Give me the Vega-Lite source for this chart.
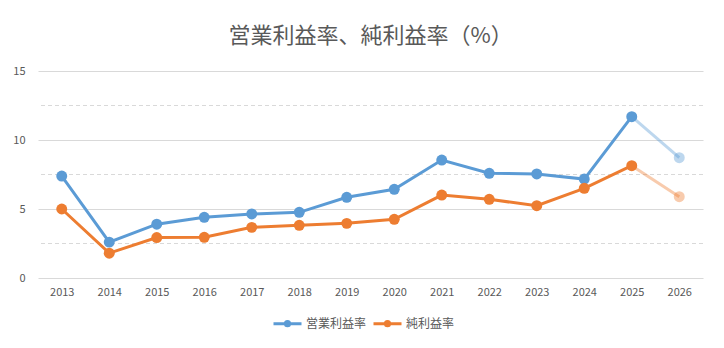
{
  "$schema": "https://vega.github.io/schema/vega-lite/v6.json",
  "width": 665,
  "height": 207,
  "autosize": {"type": "none"},
  "padding": {"left": 38, "top": 71, "right": 21, "bottom": 70},
  "background": "white",
  "title": {
    "text": "営業利益率、純利益率（%）",
    "font": "Noto Sans CJK JP",
    "fontSize": 22,
    "fontWeight": "normal",
    "color": "#595959",
    "anchor": "middle",
    "offset": 17
  },
  "config": {
    "view": {"stroke": null},
    "font": "Noto Sans CJK JP",
    "axis": {"labelColor": "#595959", "labelFontSize": 11, "labelFont": "Noto Sans CJK JP"},
    "legend": {"labelColor": "#595959", "labelFontSize": 12, "labelFont": "Noto Sans CJK JP"}
  },
  "datasets": {
    "main": [
      {"year": "2013", "series": "営業利益率", "seg": "actual", "value": 7.39},
      {"year": "2014", "series": "営業利益率", "seg": "actual", "value": 2.6},
      {"year": "2015", "series": "営業利益率", "seg": "actual", "value": 3.9},
      {"year": "2016", "series": "営業利益率", "seg": "actual", "value": 4.4},
      {"year": "2017", "series": "営業利益率", "seg": "actual", "value": 4.64},
      {"year": "2018", "series": "営業利益率", "seg": "actual", "value": 4.76},
      {"year": "2019", "series": "営業利益率", "seg": "actual", "value": 5.85},
      {"year": "2020", "series": "営業利益率", "seg": "actual", "value": 6.43},
      {"year": "2021", "series": "営業利益率", "seg": "actual", "value": 8.55},
      {"year": "2022", "series": "営業利益率", "seg": "actual", "value": 7.59},
      {"year": "2023", "series": "営業利益率", "seg": "actual", "value": 7.54},
      {"year": "2024", "series": "営業利益率", "seg": "actual", "value": 7.17},
      {"year": "2025", "series": "営業利益率", "seg": "actual", "value": 11.69},
      {"year": "2025", "series": "営業利益率", "seg": "forecast", "value": 11.69},
      {"year": "2026", "series": "営業利益率", "seg": "forecast", "value": 8.72},
      {"year": "2013", "series": "純利益率", "seg": "actual", "value": 5.0},
      {"year": "2014", "series": "純利益率", "seg": "actual", "value": 1.8},
      {"year": "2015", "series": "純利益率", "seg": "actual", "value": 2.93},
      {"year": "2016", "series": "純利益率", "seg": "actual", "value": 2.95},
      {"year": "2017", "series": "純利益率", "seg": "actual", "value": 3.67},
      {"year": "2018", "series": "純利益率", "seg": "actual", "value": 3.82},
      {"year": "2019", "series": "純利益率", "seg": "actual", "value": 3.96},
      {"year": "2020", "series": "純利益率", "seg": "actual", "value": 4.25},
      {"year": "2021", "series": "純利益率", "seg": "actual", "value": 6.01},
      {"year": "2022", "series": "純利益率", "seg": "actual", "value": 5.7},
      {"year": "2023", "series": "純利益率", "seg": "actual", "value": 5.24},
      {"year": "2024", "series": "純利益率", "seg": "actual", "value": 6.5},
      {"year": "2025", "series": "純利益率", "seg": "actual", "value": 8.14},
      {"year": "2025", "series": "純利益率", "seg": "forecast", "value": 8.14},
      {"year": "2026", "series": "純利益率", "seg": "forecast", "value": 5.89}
    ],
    "minor": [{"v": 2.5}, {"v": 7.5}, {"v": 12.5}]
  },
  "resolve": {"scale": {"y": "shared"}},
  "layer": [
    {
      "data": {"name": "minor"},
      "mark": {"type": "rule", "color": "#D9D9D9", "strokeWidth": 1, "strokeDash": [4, 3]},
      "encoding": {
        "y": {
          "field": "v", "type": "quantitative",
          "scale": {"domain": [0, 15], "nice": false, "zero": true},
          "axis": {"title": null, "values": [0, 5, 10, 15], "domain": false, "ticks": false, "gridColor": "#D9D9D9", "labelPadding": 13}
        }
      }
    },
    {
      "data": {"name": "main"},
      "mark": {"type": "line", "strokeWidth": 3},
      "encoding": {
        "x": {
          "field": "year", "type": "ordinal",
          "scale": {"type": "point", "padding": 0.5},
          "axis": {"title": null, "labelAngle": 0, "domain": false, "ticks": false, "labelPadding": 8}
        },
        "y": {"field": "value", "type": "quantitative"},
        "color": {
          "field": "series", "type": "nominal",
          "scale": {"domain": ["営業利益率", "純利益率"], "range": ["#5B9BD5", "#ED7D31"]},
          "legend": {
            "title": null, "orient": "none", "direction": "horizontal",
            "legendX": 234, "legendY": 237,
            "symbolType": "M-1,0L1,0M-0.15,0A0.15,0.15,0,1,0,0.15,0A0.15,0.15,0,1,0,-0.15,0Z",
            "symbolSize": 784, "symbolStrokeWidth": 3, "symbolOpacity": 1,
            "columnPadding": 0, "labelOffset": 3,
            "encode": {"symbols": {"update": {"opacity": {"value": 1}, "fillOpacity": {"value": 1}, "strokeOpacity": {"value": 1}}}}
          }
        },
        "detail": {"field": "seg"},
        "opacity": {
          "field": "seg", "type": "nominal",
          "scale": {"domain": ["actual", "forecast"], "range": [1, 0.4]},
          "legend": null
        }
      }
    },
    {
      "data": {"name": "main"},
      "transform": [{"filter": "datum.seg == 'actual' || datum.year == '2026'"}],
      "mark": {"type": "point", "filled": true, "size": 120},
      "encoding": {
        "x": {"field": "year", "type": "ordinal"},
        "y": {"field": "value", "type": "quantitative"},
        "color": {"field": "series", "type": "nominal"},
        "opacity": {"field": "seg", "type": "nominal", "legend": null}
      }
    }
  ]
}
